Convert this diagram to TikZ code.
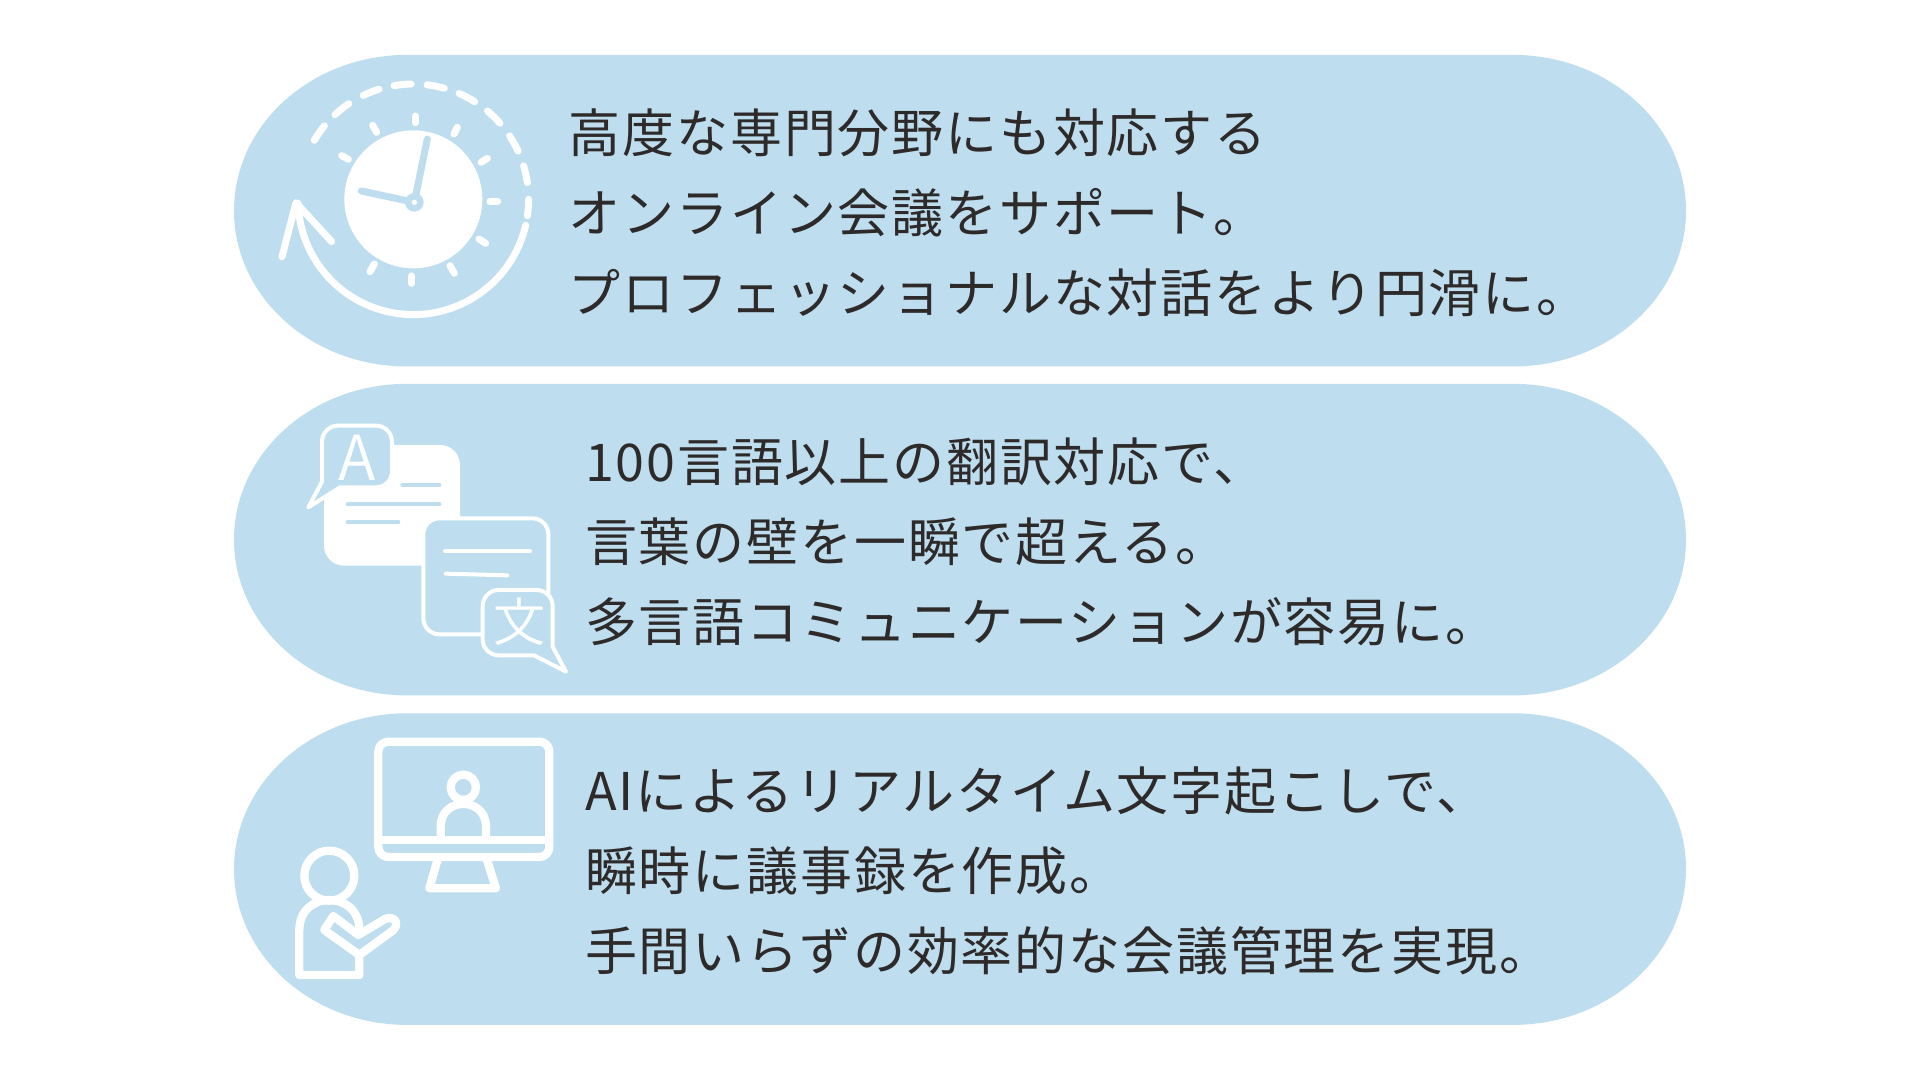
\documentclass[tikz,border=0pt]{standalone}
\usepackage{fontspec}
\newfontfamily\jpfont[LetterSpace=3.5]{Noto Sans CJK JP}
\newfontfamily\jplight{Noto Sans CJK JP DemiLight}
\definecolor{pillblue}{HTML}{BEDEEF}
\definecolor{inkdark}{HTML}{2E2A2A}
\tikzset{
  x=1pt,y=1pt,
  pill/.style={fill=pillblue,draw=none},
  bodytext/.style={anchor=west,align=left,text=inkdark,inner sep=0pt,font=\jpfont\fontsize{52}{80}\selectfont},
  whiteline/.style={draw=white,line cap=round,line join=round},
  blueline/.style={draw=pillblue,line cap=round,line join=round},
  zoomA/.style={shift={(220,1040)},x=1/3pt,y=-1/3pt},
  zoomB/.style={shift={(280,680)},x=1/3pt,y=-1/3pt},
  zoomC/.style={shift={(270,360)},x=1/3pt,y=-1/3pt},
}
\newcommand{\pillshape}[1]{%
  \path[pill] (407,#1) -- (1513,#1) arc[start angle=90,end angle=-90,x radius=173pt,y radius=155.8pt]
    -- (407,#1-311.6) arc[start angle=270,end angle=90,x radius=173pt,y radius=155.8pt] -- cycle;}
\begin{document}
\begin{tikzpicture}
\useasboundingbox (0,0) rectangle (1920,1080);
\fill[white] (0,0) rectangle (1920,1080);
\pillshape{1025.1}
\pillshape{696.2}
\pillshape{366.7}

% clock icon
\begin{scope}[zoomA]
  \fill[white] (580,478) circle[radius=207];
  \draw[blueline,line width=7pt] (583,487) -- (622,297);
  \draw[blueline,line width=7pt] (583,487) -- (424,453);
  \fill[pillblue] (583,487) circle[radius=28];
  \fill[white] (583,487) circle[radius=8];
  \foreach \ax/\ay/\bx/\by in {587/228/587/248,712/262/702/282,802/355/783/367,810/484/833/484,797/610/777/597,690/677/703/700,575/708/575/730,463/672/450/695,365/347/385/358,458/256/470/277}
    \draw[whiteline,line width=7pt] (\ax,\ay) -- (\bx,\by);
  \draw[whiteline,line width=7pt] (186,650) -- (228,488) -- (335,605);
\end{scope}
\begin{scope}[shift={(413.3,880.7)}]
  \foreach \a/\b in {149.2/140.5,132.8/124,115.8/107.3,99.6/91.1,83.1/74.4,66.6/57.8,50/41.3,33.4/24.7,16.9/8.3,0/-8.2}
    \draw[whiteline,line width=7pt] (\a:115.3pt) arc[start angle=\a,end angle=\b,radius=115.3pt];
  \draw[whiteline,line width=7pt] (-13:115.3pt) arc[start angle=-13,end angle=-178,radius=115.3pt];
\end{scope}

% translation icon
\begin{scope}[zoomB]
  \fill[white,rounded corners=20pt] (132,135) rectangle (540,497);
  \draw[blueline,line width=4pt] (367,254) -- (478,254);
  \draw[blueline,line width=4pt] (203,313) -- (478,313);
  \draw[blueline,line width=4pt] (203,366) -- (355,366);
  \draw[whiteline,fill=pillblue,line width=4pt]
    (126,245) [rounded corners=16pt] -- (126,77) -- (336,77) -- (336,262) [sharp corners] -- (180,262) -- (85,322) -- cycle;
  \node[text=white,inner sep=0pt,font=\jplight\fontsize{62}{62}\selectfont] (letterA) at (232,172) {A};
  \draw[whiteline,fill=pillblue,line width=4pt,rounded corners=16pt]
    (430,355) -- (805,355) -- (805,703) -- (430,703) -- cycle;
  \draw[whiteline,line width=4pt] (495,454) -- (750,454);
  \draw[whiteline,line width=4pt] (497,521) -- (682,526);
  \draw[whiteline,fill=pillblue,line width=4pt]
    (818,740) [rounded corners=16pt] -- (818,570) -- (608,570) -- (608,766) [sharp corners] -- (762,766) -- (858,815) -- cycle;
  \node[text=white,inner sep=0pt,font=\jplight\fontsize{52}{52}\selectfont] (letterWen) at (717,665) {文};
\end{scope}

% person and monitor icon
\begin{scope}[zoomC]
  \draw[whiteline,line width=8.3pt,rounded corners=10pt] (325,65) rectangle (838,411);
  \draw[whiteline,line width=8.3pt] (325,360) -- (838,360);
  \draw[whiteline,line width=8.3pt] (505,411) -- (478,505) -- (678,505) -- (648,411);
  \draw[whiteline,line width=8.3pt] (580,202) circle[radius=38];
  \draw[whiteline,line width=8.3pt] (512,360) -- (512,320) .. controls (512,229) and (648,229) .. (648,320) -- (648,360);
  \draw[whiteline,line width=8.3pt] (178,467) circle[radius=75];
  \draw[whiteline,line width=8.3pt] (268,640) -- (268,630) .. controls (268,510) and (88,510) .. (88,630) -- (88,765) -- (268,765) -- (268,705);
  \draw[whiteline,fill=pillblue,line width=8.3pt] (268,705) -- (163,630) -- (190,588) -- (265,645) -- (345,597) .. controls (375,585) and (390,612) .. (368,632) -- cycle;
\end{scope}

\node[bodytext] (first) at (568.6,867.5) {高度な専門分野にも対応する\\オンライン会議をサポート。\\プロフェッショナルな対話をより円滑に。};
\node[bodytext] (second) at (585,538.3) {100言語以上の翻訳対応で、\\言葉の壁を一瞬で超える。\\多言語コミュニケーションが容易に。};
\node[bodytext] (third) at (585,209) {AIによるリアルタイム文字起こしで、\\瞬時に議事録を作成。\\手間いらずの効率的な会議管理を実現。};
\end{tikzpicture}
\end{document}
